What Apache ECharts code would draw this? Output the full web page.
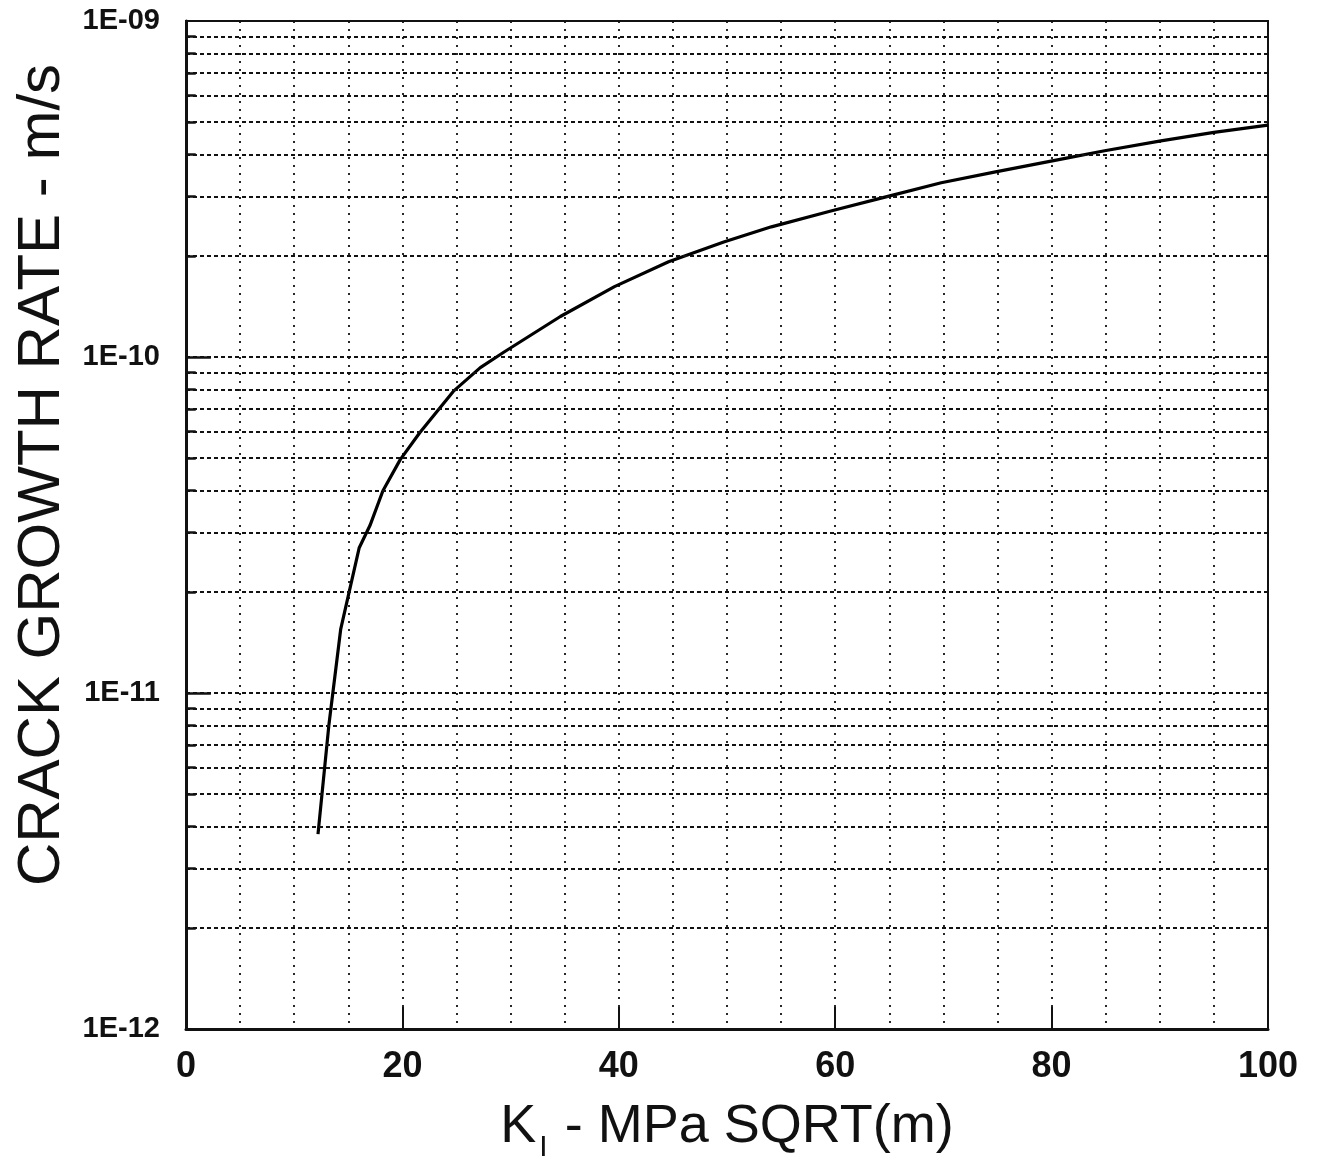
<!DOCTYPE html>
<html>
<head>
<meta charset="utf-8">
<script src="https://cdn.jsdelivr.net/npm/echarts@6/dist/echarts.min.js"></script>
<style>
  html, body { margin: 0; padding: 0; background: #fff; }
  #chart { width: 1324px; height: 1162px; }
</style>
</head>
<body>
<div id="chart"></div>
<script>
// 曲线数据 (K_I, 裂纹扩展速率)
const kValues = [12.2, 13.2, 14.3, 16.0, 17.0, 18.2, 19.8, 21.6, 24.7, 27.2, 29.4, 34.6, 39.6, 44.6, 49.7, 54.1, 59.6, 64.6, 69.8, 74.7, 80.9, 84.9, 90.1, 95.0, 100]
const rateValues = [3.8e-12, 8.0e-12, 1.55e-11, 2.7e-11, 3.15e-11, 4.0e-11, 4.95e-11, 5.95e-11, 7.9e-11, 9.3e-11, 1.035e-10, 1.32e-10, 1.62e-10, 1.92e-10, 2.2e-10, 2.44e-10, 2.72e-10, 2.99e-10, 3.3e-10, 3.55e-10, 3.88e-10, 4.11e-10, 4.4e-10, 4.66e-10, 4.9e-10]

// 坐标轴刻度
const xTickLabels = ['0', '20', '40', '60', '80', '100']
const yDecades = [1e-12, 1e-11, 1e-10, 1e-9]
const yTickLabels = ['1E-12', '1E-11', '1E-10', '1E-09']
const minorSteps = [2, 3, 4, 5, 6, 7, 8, 9]

const curveData = kValues.map((k, i) => [k, rateValues[i]])

// 对数次网格线 (2..9 每个数量级)
const minorValues = []
yDecades.slice(0, -1).forEach(d => {
  minorSteps.forEach(m => minorValues.push(m * d))
})

const gridDash = () => ({ color: '#111', width: 2.2, type: [4, 3] })
const tickStyle = () => ({ color: '#111', width: 2.5, type: 'solid' })

const markLines = []
minorValues.forEach(v => {
  markLines.push([{ coord: [0, v], lineStyle: gridDash() }, { coord: [100, v] }])
  markLines.push([{ coord: [0, v], lineStyle: tickStyle() }, { coord: [0.9, v] }])
})
// 主刻度内侧短线
yDecades.slice(1, -1).forEach(v => {
  markLines.push([{ coord: [0, v], lineStyle: tickStyle() }, { coord: [2.3, v] }])
})

const chart = echarts.init(document.getElementById('chart'))

chart.setOption({
  animation: false,
  backgroundColor: '#fff',
  textStyle: { fontFamily: 'Liberation Sans, Arial, sans-serif', color: '#111' },
  grid: {
    left: 186, right: 56, top: 21, bottom: 133,
    outerBoundsMode: 'none',
    containLabel: false,
    show: true, borderColor: '#111', borderWidth: 2
  },
  graphic: [{
    type: 'text',
    x: 42, y: 475,
    rotation: Math.PI / 2,
    style: {
      text: 'CRACK GROWTH RATE - m/s',
      font: '60px "Liberation Sans", Arial, sans-serif',
      fill: '#111',
      align: 'center',
      verticalAlign: 'middle'
    }
  }],
  xAxis: {
    type: 'value',
    min: 0, max: 100, interval: 20,
    name: '{k|K}{s|I}{t| - MPa SQRT(m)}',
    nameLocation: 'middle',
    nameGap: 62,
    nameTextStyle: {
      rich: {
        k: { fontSize: 54, lineHeight: 72, color: '#111' },
        s: { fontSize: 30, lineHeight: 30, verticalAlign: 'bottom', color: '#111', padding: [0, 2, 0, 3] },
        t: { fontSize: 54, lineHeight: 72, color: '#111' }
      }
    },
    axisLine: { show: true, onZero: false, lineStyle: { color: '#111', width: 3 } },
    axisTick: { show: true, inside: true, length: 22, lineStyle: { color: '#111', width: 2 } },
    axisLabel: {
      fontSize: 36, fontWeight: 'bold', color: '#111', margin: 20,
      formatter: v => xTickLabels[Math.round(v / 20)] ?? ''
    },
    splitLine: { show: true, lineStyle: { color: '#111', width: 1.8, type: [2, 6] } },
    minorTick: { show: false, splitNumber: 4 },
    minorSplitLine: { show: true, lineStyle: { color: '#111', width: 1.8, type: [2, 6] } }
  },
  yAxis: {
    type: 'log',
    logBase: 10,
    min: 1e-12, max: 1e-9,
    axisLine: { show: true, onZero: false, lineStyle: { color: '#111', width: 3 } },
    axisTick: { show: false },
    axisLabel: {
      fontSize: 29, fontWeight: 'bold', color: '#111', margin: 26,
      formatter: v => {
        const i = yDecades.findIndex(d => Math.abs(Math.log10(d) - Math.log10(v)) < 1e-6)
        return i >= 0 ? yTickLabels[i] : ''
      }
    },
    splitLine: { show: true, lineStyle: gridDash() }
  },
  series: [{
    type: 'line',
    data: curveData,
    showSymbol: false,
    smooth: false,
    lineStyle: { color: '#000', width: 3.2 },
    markLine: {
      silent: true,
      symbol: ['none', 'none'],
      label: { show: false },
      data: markLines
    }
  }]
})
</script>
</body>
</html>
